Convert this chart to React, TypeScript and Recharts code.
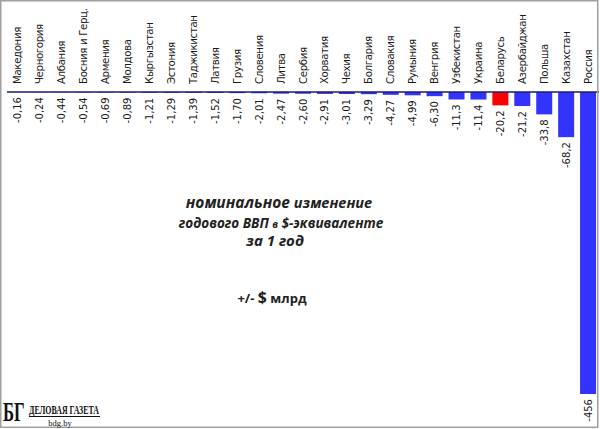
import { BarChart, Bar, XAxis, YAxis, Cell, LabelList } from 'recharts'

const COUNTRIES = [
  'Македония', 'Черногория', 'Албания', 'Босния и Герц.', 'Армения', 'Молдова',
  'Кыргызстан', 'Эстония', 'Таджикистан', 'Латвия', 'Грузия', 'Словения', 'Литва',
  'Сербия', 'Хорватия', 'Чехия', 'Болгария', 'Словакия', 'Румыния', 'Венгрия',
  'Узбекистан', 'Украина', 'Беларусь', 'Азербайджан', 'Польша', 'Казахстан', 'Россия',
]

const CHANGE = [
  -0.16, -0.24, -0.44, -0.54, -0.69, -0.89, -1.21, -1.29, -1.39, -1.52, -1.7, -2.01, -2.47,
  -2.6, -2.91, -3.01, -3.29, -4.27, -4.99, -6.3, -11.3, -11.4, -20.2, -21.2, -33.8, -68.2, -456,
]

const HIGHLIGHT = 'Беларусь'

const data = COUNTRIES.map((name, i) => ({ name, value: CHANGE[i] }))

const BLUE = '#3333ff'
const RED = '#ff0000'

function fmt(v: number) {
  const a = Math.abs(v)
  const d = a < 10 ? 2 : a < 100 ? 1 : 0
  return v.toFixed(d).replace('.', ',')
}

function CountryTick({ x, y, payload }: any) {
  return (
    <text
      x={x}
      y={y}
      transform={`rotate(-90, ${x}, ${y})`}
      textAnchor="start"
      dominantBaseline="central"
      fontFamily="DejaVu Sans"
      fontSize={10.2}
      letterSpacing={-0.35}
      fill="#1a1a1a"
    >
      {payload.value}
    </text>
  )
}

function ValueLabel({ x, y, width, height, value }: any) {
  const cx = x + width / 2
  const bottom = Math.max(y, y + height) + 5
  return (
    <text
      x={cx}
      y={bottom}
      transform={`rotate(-90, ${cx}, ${bottom})`}
      textAnchor="end"
      dominantBaseline="central"
      fontFamily="DejaVu Sans"
      fontSize={10}
      fill="#1a1a1a"
    >
      {fmt(value)}
    </text>
  )
}

export default function App() {
  return (
    <div style={{ position: 'absolute', left: 0, top: 0, width: 600, height: 429, background: '#fff' }}>
      <BarChart
        width={600}
        height={429}
        data={data}
        margin={{ top: 0, right: 1, bottom: 35, left: 7 }}
        barSize={16}
      >
        <XAxis
          dataKey="name"
          orientation="top"
          height={92}
          interval={0}
          tickLine={false}
          tickSize={0}
          tickMargin={8}
          axisLine={{ stroke: '#1c1c70', strokeWidth: 1.5 }}
          tick={<CountryTick />}
        />
        <YAxis hide domain={[-456, 0]} />
        <Bar dataKey="value" isAnimationActive={false}>
          {data.map((d) => (
            <Cell key={d.name} fill={d.name === HIGHLIGHT ? RED : BLUE} />
          ))}
          <LabelList dataKey="value" content={<ValueLabel />} />
        </Bar>
      </BarChart>

      <svg
        width={600}
        height={429}
        style={{ position: 'absolute', left: 0, top: 0, pointerEvents: 'none' }}
      >
        <rect x={0.75} y={0.75} width={597} height={426.5} fill="none" stroke="#a0a0a0" strokeWidth={1.5} />

        <g fontFamily="Open Sans" fontStyle="italic" fontWeight={700} fill="#222" textAnchor="middle">
          <text x={279} y={208} fontSize={14.5}>
            <tspan fontSize={15.5}>номинальное</tspan> изменение
          </text>
          <text x={281} y={228} fontSize={13.5}>
            годового  ВВП <tspan fontSize={10}>в</tspan> $-эквиваленте
          </text>
          <text x={275} y={246} fontSize={15}>за 1 год</text>
        </g>
        <text x={272} y={303} textAnchor="middle" fontFamily="Open Sans" fontWeight={700} fontSize={13} fill="#222">
          +/- <tspan fontSize={16}>$</tspan> млрд
        </text>

        <g fontFamily="Liberation Serif" fill="#111">
          <text transform="translate(3, 421) scale(0.62, 1)" fontSize={27} fontWeight={700}>БГ</text>
          <text transform="translate(29, 414) scale(0.655, 1)" fontSize={12} fontWeight={700}>ДЕЛОВАЯ ГАЗЕТА</text>
          <line x1={29} y1={416.5} x2={100} y2={416.5} stroke="#111" strokeWidth={1} />
          <text x={60} y={426} fontSize={8.5} textAnchor="middle">bdg.by</text>
        </g>
      </svg>
    </div>
  )
}
